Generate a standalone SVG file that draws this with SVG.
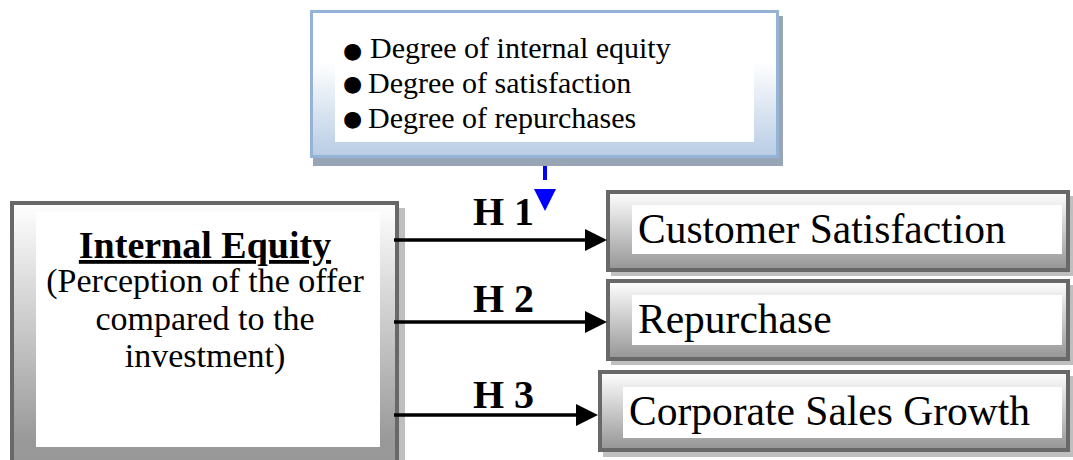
<svg xmlns="http://www.w3.org/2000/svg" width="1073" height="460" viewBox="0 0 1073 460">
  <style>
    .shadow-gray { fill: #bfbfbf; }
    .frame-gray { fill: url(#grayGrad); stroke: #686868; stroke-width: 4; }
    .inner { fill: #ffffff; }
    .serif { font-family: "Liberation Serif", "Times New Roman", serif; fill: #000; }
    .bullet { font-family: "DejaVu Sans", sans-serif; fill: #000; }
    .conn { stroke: #000; stroke-width: 3.5; fill: none; }
  </style>
  <defs>
    <linearGradient id="grayGrad" x1="0" y1="0" x2="0" y2="1">
      <stop offset="0" stop-color="#ffffff"/>
      <stop offset="1" stop-color="#959595"/>
    </linearGradient>
    <linearGradient id="grayGradTall" x1="0" y1="0" x2="0" y2="1">
      <stop offset="0" stop-color="#ffffff"/>
      <stop offset="0.85" stop-color="#999999"/>
      <stop offset="1" stop-color="#969696"/>
    </linearGradient>
    <linearGradient id="blueGrad" x1="0" y1="0" x2="0" y2="1">
      <stop offset="0" stop-color="#ffffff"/>
      <stop offset="0.35" stop-color="#ffffff"/>
      <stop offset="1" stop-color="#b8cce4"/>
    </linearGradient>
    <marker id="arrowBlack" viewBox="0 0 22 22" refX="15" refY="11" markerWidth="22" markerHeight="22" markerUnits="userSpaceOnUse" orient="auto">
      <path d="M0,0 L22,11 L0,22 Z" fill="#000"/>
    </marker>
    <marker id="arrowBlue" viewBox="0 -11 22 22" refX="0" refY="0" markerWidth="22" markerHeight="22" markerUnits="userSpaceOnUse" orient="auto">
      <path d="M0,-11 L22,0 L0,11 Z" fill="#0000ff"/>
    </marker>
  </defs>

  <!-- Top indicators box -->
  <g id="indicators">
    <rect x="313" y="16" width="470" height="150" fill="#97a5b5"/>
    <rect x="311.5" y="11.5" width="466" height="145" fill="url(#blueGrad)" stroke="#95b3d7" stroke-width="3"/>
    <rect x="335" y="27" width="419" height="115" class="inner"/>
    <text class="bullet" font-size="22" x="343" y="58">●</text>
    <text class="bullet" font-size="22" x="343" y="91">●</text>
    <text class="bullet" font-size="22" x="343" y="126">●</text>
    <text class="serif" font-size="30" x="370" y="58">Degree of internal equity</text>
    <text class="serif" font-size="30" x="368" y="93">Degree of satisfaction</text>
    <text class="serif" font-size="30" x="368" y="128">Degree of repurchases</text>
  </g>

  <!-- Internal Equity box -->
  <g id="internal-equity">
    <rect x="399" y="208" width="6" height="260" class="shadow-gray"/>
    <rect x="12" y="203" width="385" height="280" fill="url(#grayGradTall)" stroke="#686868" stroke-width="4"/>
    <rect x="36" y="212" width="344" height="235" class="inner"/>
    <text class="serif" font-size="38" font-weight="bold" text-anchor="middle" text-decoration="underline" x="205" y="258">Internal Equity</text>
    <text class="serif" font-size="34" text-anchor="middle" x="205" y="292">(Perception of the offer</text>
    <text class="serif" font-size="34" text-anchor="middle" x="205" y="330">compared to the</text>
    <text class="serif" font-size="34" text-anchor="middle" x="205" y="367">investment)</text>
  </g>

  <!-- Customer Satisfaction -->
  <g id="customer-satisfaction">
    <rect x="611" y="196" width="462" height="80" class="shadow-gray"/>
    <rect x="608" y="192" width="460" height="78" class="frame-gray"/>
    <rect x="632" y="205" width="430" height="49" class="inner"/>
    <text class="serif" font-size="41.5" x="638" y="243">Customer Satisfaction</text>
  </g>

  <!-- Repurchase -->
  <g id="repurchase">
    <rect x="611" y="285" width="462" height="80" class="shadow-gray"/>
    <rect x="608" y="281" width="460" height="78" class="frame-gray"/>
    <rect x="632" y="295" width="430" height="50" class="inner"/>
    <text class="serif" font-size="41.5" x="638" y="333">Repurchase</text>
  </g>

  <!-- Corporate Sales Growth -->
  <g id="sales-growth">
    <rect x="603" y="376" width="470" height="81" class="shadow-gray"/>
    <rect x="600" y="372" width="468" height="78" class="frame-gray"/>
    <rect x="623" y="387" width="439" height="51" class="inner"/>
    <text class="serif" font-size="41.5" x="629" y="425">Corporate Sales Growth</text>
  </g>

  <!-- Connectors -->
  <g id="connectors">
    <line x1="545" y1="166" x2="545" y2="189" stroke="#0000ff" stroke-width="4" stroke-dasharray="14 9" marker-end="url(#arrowBlue)"/>
    <line class="conn" x1="394" y1="240" x2="600" y2="240" marker-end="url(#arrowBlack)"/>
    <line class="conn" x1="394" y1="322" x2="600" y2="322" marker-end="url(#arrowBlack)"/>
    <line class="conn" x1="394" y1="415" x2="591" y2="415" marker-end="url(#arrowBlack)"/>
    <text class="serif" font-size="40" font-weight="bold" x="473" y="225">H 1</text>
    <text class="serif" font-size="40" font-weight="bold" x="473" y="312">H 2</text>
    <text class="serif" font-size="40" font-weight="bold" x="473" y="408">H 3</text>
  </g>
</svg>
